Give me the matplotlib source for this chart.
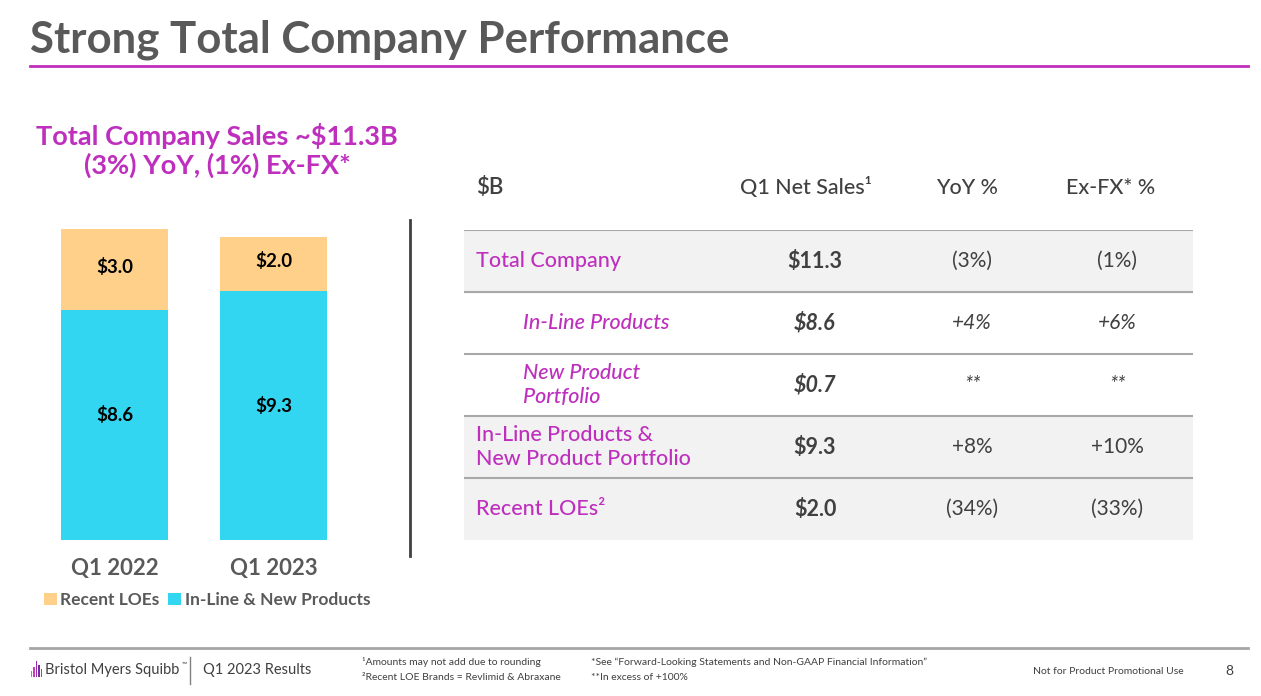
import matplotlib.pyplot as plt
from matplotlib.patches import Rectangle
from matplotlib.lines import Line2D

plt.rcParams['font.family'] = ['Lato', 'DejaVu Sans']

# chart data
periods = ['Q1 2022', 'Q1 2023']
inline_new = [8.6, 9.3]
recent_loes = [3.0, 2.0]

# table data
col_heads = ['Q1 Net Sales¹', 'YoY %', 'Ex-FX* %']
row_labels = ['Total Company', 'In-Line Products', 'New Product\nPortfolio',
              'In-Line Products &\nNew Product Portfolio', 'Recent LOEs²']
net_sales = ['$11.3', '$8.6', '$0.7', '$9.3', '$2.0']
yoy = ['(3%)', '+4%', '**', '+8%', '(34%)']
exfx = ['(1%)', '+6%', '**', '+10%', '(33%)']
row_sub = [False, True, True, False, False]
row_shaded = [True, False, False, True, True]

MAGENTA = '#BE2FBE'
CYAN = '#32D6F0'
PEACH = '#FFD08A'
GRAY = '#595959'
DARK = '#404040'

W, H = 1261, 696
fig = plt.figure(figsize=(W / 100, H / 100), dpi=100)


def fx(x):
    return x / W


def fy(y):
    return 1 - y / H


# slide header
fig.text(fx(30), fy(40), 'Strong Total Company Performance', fontsize=31.5,
         fontweight='bold', color=GRAY, va='center', ha='left')
fig.add_artist(Line2D([fx(30), fx(1248)], [fy(66), fy(66)], color=MAGENTA, lw=2))

fig.text(fx(217), fy(136), 'Total Company Sales ~$11.3B', fontsize=19.5,
         fontweight='bold', color=MAGENTA, ha='center', va='center')
fig.text(fx(217), fy(165), '(3%) YoY, (1%) Ex-FX*', fontsize=19.5,
         fontweight='bold', color=MAGENTA, ha='center', va='center')

# stacked bars
ax = fig.add_axes([fx(30), fy(540), 330 / W, 321.6 / H])
xs = list(range(len(periods)))
b1 = ax.bar(xs, inline_new, width=0.673, color=CYAN, label='In-Line & New Products')
b2 = ax.bar(xs, recent_loes, width=0.673, bottom=inline_new, color=PEACH, label='Recent LOEs')
for x, lo, hi in zip(xs, inline_new, recent_loes):
    ax.annotate(f'${lo:.1f}', (x, lo / 2), xytext=(0, 7), textcoords='offset points',
                ha='center', va='center', fontsize=13.5, fontweight='bold', color='black')
    ax.annotate(f'${hi:.1f}', (x, lo + hi / 2), xytext=(0, 2), textcoords='offset points',
                ha='center', va='center', fontsize=13.5, fontweight='bold', color='black')
ax.set_ylim(0, 12)
ax.set_xlim(-0.531, 1.544)
ax.set_xticks(xs)
ax.set_xticklabels(periods, fontsize=16, fontweight='bold', color=GRAY)
ax.tick_params(axis='x', length=0, pad=13)
ax.set_yticks([])
for s in ax.spines.values():
    s.set_visible(False)

leg = fig.legend(handles=[b2, b1], labels=['Recent LOEs', 'In-Line & New Products'],
                 loc='center left', bbox_to_anchor=(fx(35), fy(600)), ncol=2,
                 frameon=False, handlelength=0.75, handleheight=0.75,
                 handletextpad=0.2, columnspacing=0.5, borderpad=0,
                 prop={'size': 12.5, 'weight': 'bold'})
for t in leg.get_texts():
    t.set_color(GRAY)

# divider
fig.add_artist(Line2D([fx(410), fx(410)], [fy(220), fy(556)], color=DARK, lw=2))

# table
tax = fig.add_axes([fx(464), fy(540), 729 / W, 310 / H])
tax.set_xlim(0, 1)
tax.set_ylim(len(row_labels), 0)
tax.axis('off')

col_x = [0.4815, 0.697, 0.896]
head_x = [0.4691, 0.690, 0.8875]

tax.text(0.0165, -0.68, '$B', fontsize=16, color=DARK, ha='left', va='center',
         fontweight='semibold')
for hx, h in zip(head_x, col_heads):
    tax.text(hx, -0.68, h, fontsize=15.5, color=DARK, ha='center', va='center',
             fontweight='medium')

for i, lab in enumerate(row_labels):
    if row_shaded[i]:
        tax.axhspan(i, i + 1, color='#F2F2F2', zorder=0)
    tax.axhline(i, color='#A8A8A8', lw=1.5, zorder=1)
    style = 'italic' if row_sub[i] else 'normal'
    lx = 0.081 if row_sub[i] else 0.0165
    tax.text(lx, i + 0.5, lab, fontsize=15.5, color=MAGENTA, ha='left', va='center',
             style=style, fontweight='medium', linespacing=1.3)
    tax.text(col_x[0], i + 0.5, net_sales[i], fontsize=15.5, color=DARK,
             ha='center', va='center', fontweight='bold', style=style)
    tax.text(col_x[1], i + 0.5, yoy[i], fontsize=15, color=DARK,
             ha='center', va='center', style=style)
    tax.text(col_x[2], i + 0.5, exfx[i], fontsize=15, color=DARK,
             ha='center', va='center', style=style)

# footer
fig.add_artist(Line2D([fx(30), fx(1248)], [fy(648), fy(648)], color='#A6A6A6', lw=2))
icon_h = [6, 10, 16, 12, 8]
icon_c = ['#E05AC8', '#C83CB8', '#9B2FAE', '#7B2A9E', '#BE2FBE']
for k, (hh, cc) in enumerate(zip(icon_h, icon_c)):
    fig.add_artist(Rectangle((fx(31 + k * 2.4), fy(677)), 1.4 / W, hh / H,
                             color=cc, lw=0))
fig.text(fx(45), fy(670), 'Bristol Myers Squibb', fontsize=10.5, color=DARK,
         ha='left', va='center')
fig.text(fx(182), fy(664), '™', fontsize=5, color=DARK, ha='left', va='center')
fig.add_artist(Line2D([fx(190), fx(190)], [fy(657), fy(684)], color='#808080', lw=1))
fig.text(fx(203), fy(670), 'Q1 2023 Results', fontsize=10.5, color=DARK,
         ha='left', va='center')
fig.text(fx(362), fy(662), '¹Amounts may not add due to rounding', fontsize=7.5,
         color=DARK, ha='left', va='center')
fig.text(fx(362), fy(677), '²Recent LOE Brands = Revlimid & Abraxane', fontsize=7.5,
         color=DARK, ha='left', va='center')
fig.text(fx(591), fy(662), '*See “Forward-Looking Statements and Non-GAAP Financial Information”',
         fontsize=7.5, color=DARK, ha='left', va='center')
fig.text(fx(591), fy(677), '**In excess of +100%', fontsize=7.5, color=DARK,
         ha='left', va='center')
fig.text(fx(1033), fy(672), 'Not for Product Promotional Use', fontsize=7.5,
         color=DARK, ha='left', va='center')
fig.text(fx(1229), fy(671), '8', fontsize=10, color=DARK, ha='center', va='center')

fig.savefig('out.png', dpi=100)
